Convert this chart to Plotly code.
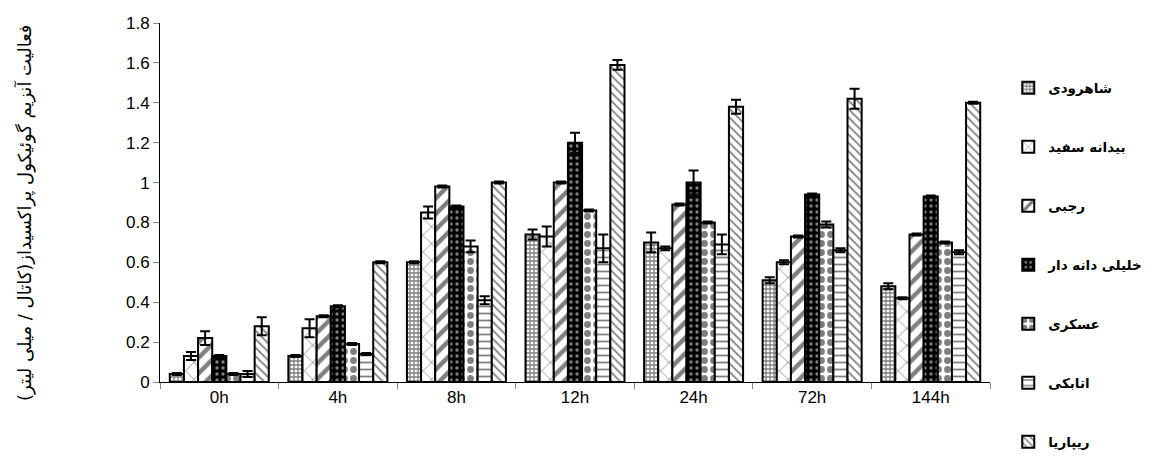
import plotly.graph_objects as go

categories = ["0h", "4h", "8h", "12h", "24h", "72h", "144h"]

series_names = ["شاهرودی", "بیدانه سفید", "رجبی", "خلیلی دانه دار", "عسکری", "اتابکی", "ریپاریا"]

shahroudi = [0.04, 0.13, 0.60, 0.74, 0.70, 0.51, 0.48]
shahroudi_err = [0.005, 0.005, 0.005, 0.025, 0.05, 0.015, 0.015]
bidaneh = [0.13, 0.27, 0.85, 0.73, 0.67, 0.60, 0.42]
bidaneh_err = [0.02, 0.045, 0.03, 0.05, 0.01, 0.01, 0.005]
rajabi = [0.22, 0.33, 0.98, 1.00, 0.89, 0.73, 0.74]
rajabi_err = [0.035, 0.005, 0.005, 0.005, 0.005, 0.005, 0.005]
khalili = [0.13, 0.38, 0.88, 1.20, 1.00, 0.94, 0.93]
khalili_err = [0.005, 0.005, 0.005, 0.05, 0.06, 0.005, 0.005]
askari = [0.04, 0.19, 0.68, 0.86, 0.80, 0.79, 0.70]
askari_err = [0.005, 0.005, 0.03, 0.005, 0.005, 0.015, 0.005]
atabaki = [0.04, 0.14, 0.41, 0.67, 0.69, 0.66, 0.65]
atabaki_err = [0.015, 0.005, 0.02, 0.07, 0.05, 0.01, 0.01]
riparia = [0.28, 0.60, 1.00, 1.59, 1.38, 1.42, 1.40]
riparia_err = [0.045, 0.005, 0.005, 0.025, 0.035, 0.05, 0.005]

values = [shahroudi, bidaneh, rajabi, khalili, askari, atabaki, riparia]
errors = [shahroudi_err, bidaneh_err, rajabi_err, khalili_err, askari_err, atabaki_err, riparia_err]

y_ticks = [0, 0.2, 0.4, 0.6, 0.8, 1, 1.2, 1.4, 1.6, 1.8]
y_ticktext = ["0", "0.2", "0.4", "0.6", "0.8", "1", "1.2", "1.4", "1.6", "1.8"]
y_title = "فعالیت آنزیم گوئیکول پراکسیداز(کاتال / میلی لیتر)"

patterns = [
    dict(shape="+", fgcolor="black", bgcolor="white", size=4, solidity=0.55),
    dict(shape="x", fgcolor="black", bgcolor="white", size=12, solidity=0.12),
    dict(shape="/", fgcolor="black", bgcolor="white", size=11, solidity=0.4),
    dict(shape=".", fgcolor="white", bgcolor="black", size=6, solidity=0.25),
    dict(shape=".", fgcolor="black", bgcolor="white", size=9, solidity=0.45),
    dict(shape="-", fgcolor="black", bgcolor="white", size=7, solidity=0.25),
    dict(shape="\\", fgcolor="black", bgcolor="white", size=6, solidity=0.3),
]

# plot area: top at 15 px, height 359 px (figure coords)
PLOT_T, PLOT_H = 15, 359
LEG_FIRST, LEG_STEP = 80, 59

fig = go.Figure()
legend_layout = {}
for i, (name, vals, errs) in enumerate(zip(series_names, values, errors)):
    lid = "legend" if i == 0 else f"legend{i + 1}"
    fig.add_trace(go.Bar(
        x=categories, y=vals, name=name, legend=lid,
        marker=dict(color="white", line=dict(color="black", width=2), pattern=patterns[i]),
        error_y=dict(type="data", array=errs, visible=True, color="black", thickness=2, width=5),
    ))
    py = LEG_FIRST + i * LEG_STEP
    legend_layout[lid] = dict(
        x=1.022, y=(PLOT_T + PLOT_H - py) / PLOT_H, xanchor="left", yanchor="middle",
        font=dict(family="DejaVu Sans", size=13.5, color="black", weight="bold"),
        itemsizing="constant", bgcolor="rgba(0,0,0,0)",
    )

fig.add_annotation(
    text=y_title, textangle=-90, xref="paper", yref="paper",
    x=-0.163, y=0.47, xanchor="center", yanchor="middle", showarrow=False,
    font=dict(family="DejaVu Sans", size=18, color="black"),
)

fig.update_layout(
    width=1153, height=462,
    margin=dict(l=152, r=171, t=PLOT_T, b=88, autoexpand=False),
    plot_bgcolor="white", paper_bgcolor="white",
    barmode="group", bargap=0.165, bargroupgap=0,
    font=dict(family="Liberation Sans, DejaVu Sans, sans-serif", size=17, color="black"),
    showlegend=True,
    xaxis=dict(
        type="category", showline=True, linecolor="black", linewidth=1,
        ticks="outside", tickson="boundaries", ticklen=6, tickcolor="#888",
        showgrid=False, tickfont=dict(size=17), automargin=False,
    ),
    yaxis=dict(
        range=[0, 1.8], tickvals=y_ticks, ticktext=y_ticktext,
        showline=True, linecolor="black", linewidth=1, ticks="outside", ticklen=6,
        tickcolor="#888", showgrid=False, zeroline=False, tickfont=dict(size=17),
        automargin=False,
    ),
    **legend_layout,
)

fig.write_html("out.html")
